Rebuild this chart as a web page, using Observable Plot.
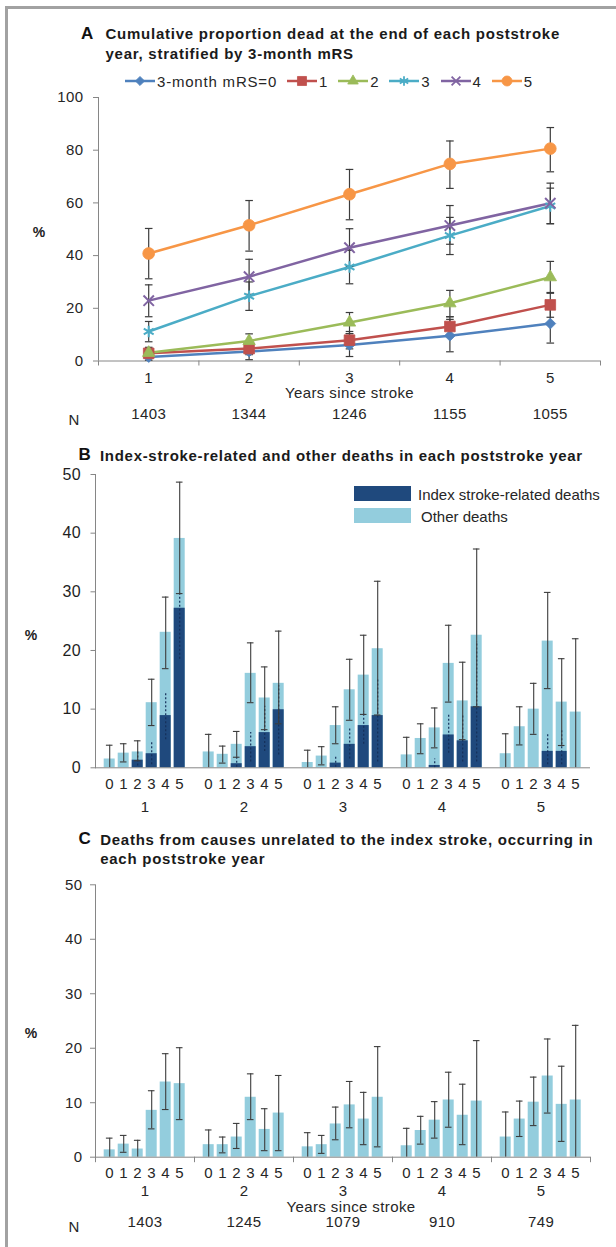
<!DOCTYPE html>
<html>
<head>
<meta charset="utf-8">
<script src="https://cdn.jsdelivr.net/npm/d3@7"></script>
<script src="https://cdn.jsdelivr.net/npm/@observablehq/plot@0.6"></script>
<style>
  html, body { margin: 0; padding: 0; background: #fff; }
  #page {
    position: relative; width: 616px; height: 1247px; overflow: hidden; background: #fff;
    font-family: "Liberation Sans", Arial, Helvetica, sans-serif; color: #1e1e1e;
  }
  .border { position: absolute; left: 5px; top: 6px; right: -20px; bottom: -20px;
    border-top: 3px solid #a2a2a2; border-left: 3px solid #a2a2a2; }
  .abs { position: absolute; white-space: nowrap; }
  .letter { font-weight: bold; font-size: 17px; line-height: 19px; color: #111; }
  .title { font-weight: bold; font-size: 15px; line-height: 19.5px; letter-spacing: 0.75px; color: #1a1a1a; }
  .pct { font-weight: bold; font-size: 14px; transform: translate(-50%, -50%); color: #222; }
  .lab { font-size: 15px; letter-spacing: 0.4px; transform: translate(-50%, -50%); color: #262626; }
  .panel { position: absolute; left: 0; }
  #legendA { position: absolute; left: 125px; top: 73px; height: 16px; display: flex; align-items: center;
    font-size: 15px; letter-spacing: 0.8px; color: #262626; }
  #legendA .item { display: flex; align-items: center; margin-right: 10px; }
  #legendA svg { display: block; margin-right: 2px; }
  .swatch { position: absolute; width: 57px; height: 15px; }
</style>
</head>
<body>
<div id="page">
  <div class="border"></div>

  <div class="abs letter" style="left:81px; top:24px;">A</div>
  <div class="abs title" style="left:105.5px; top:24px;">Cumulative proportion dead at the end of each poststroke<br>year, stratified by 3-month mRS</div>
  <div id="legendA"></div>
  <div class="abs pct" style="left:39px; top:232px;">%</div>
  <div class="abs lab" style="left:74px; top:419px;">N</div>

  <div class="abs letter" style="left:78.5px; top:445px;">B</div>
  <div class="abs title" style="left:100px; top:445.5px; letter-spacing:0.7px;">Index-stroke-related and other deaths in each poststroke year</div>
  <div class="abs pct" style="left:31px; top:635px;">%</div>

  <div class="abs letter" style="left:78.5px; top:829px;">C</div>
  <div class="abs title" style="left:100.2px; top:829.5px;">Deaths from causes unrelated to the index stroke, occurring in<br>each poststroke year</div>
  <div class="abs pct" style="left:31px; top:1033px;">%</div>
  <div class="abs lab" style="left:74px; top:1226px;">N</div>
  <div class="abs lab" style="left:351px; top:1205.5px;">Years since stroke</div>

  <div id="panelA" class="panel" style="top:88px;"></div>
  <div id="panelB" class="panel" style="top:466px;"></div>
  <div id="panelC" class="panel" style="top:876px;"></div>

  <div id="legendB"></div>
</div>

<script>
// ---- categories -----------------------------------------------------------
const years = [1, 2, 3, 4, 5];
const mrsLevels = [0, 1, 2, 3, 4, 5];
const mrsLegendLabels = ["3-month mRS=0", "1", "2", "3", "4", "5"];
const nPanelA = [1403, 1344, 1246, 1155, 1055];
const nPanelC = [1403, 1245, 1079, 910, 749];

// ---- A: cumulative % dead at the end of each year (rows: mRS 0–5, cols: year 1–5)
const cumDead   = [
  [1.5, 3.6, 6.1, 9.6, 14.2],
  [2.9, 4.7, 7.9, 13.1, 21.3],
  [3.1, 7.6, 14.6, 21.9, 31.8],
  [11.2, 24.6, 35.7, 47.6, 58.8],
  [22.9, 32.0, 43.0, 51.4, 59.9],
  [40.8, 51.5, 63.3, 74.8, 80.6]
];
const cumDeadLo = [
  [0.3, 0.5, 1.7, 3.5, 6.8],
  [1.0, 2.4, 4.6, 9.4, 16.6],
  [1.0, 4.6, 10.4, 16.8, 25.7],
  [7.3, 19.2, 29.3, 40.4, 52.1],
  [16.8, 25.3, 36.0, 44.3, 52.1],
  [31.2, 41.7, 53.6, 65.5, 71.8]
];
const cumDeadHi = [
  [2.7, 7.0, 10.4, 15.8, 21.8],
  [4.8, 7.0, 11.2, 16.8, 26.0],
  [5.2, 10.3, 18.4, 26.8, 37.8],
  [15.0, 30.0, 42.0, 54.5, 65.6],
  [28.9, 38.6, 50.2, 59.0, 67.5],
  [50.3, 60.9, 72.7, 83.5, 88.6]
];

// ---- B: deaths within each year (rows: year 1–5, cols: mRS 0–5)
const allDeaths = [
  [1.5, 2.5, 2.7, 11.1, 23.1, 39.1],
  [2.7, 2.3, 4.0, 16.1, 11.9, 14.4],
  [0.9, 2.0, 7.2, 13.3, 15.8, 20.3],
  [2.2, 5.0, 6.8, 17.8, 11.4, 22.6],
  [2.4, 7.0, 10.0, 21.6, 11.2, 9.5]
];
const allDeathsLo = [
  [0, 1.0, 1.2, 7.2, 16.9, 29.7],
  [0, 0.8, 1.8, 11.1, 6.5, 7.5],
  [0, 0.5, 4.1, 8.1, 9.1, 9.0],
  [0, 2.4, 3.4, 11.2, 4.8, 10.4],
  [0, 3.9, 5.7, 13.5, 3.8, 0]
];
const allDeathsHi = [
  [3.85, 4.1, 4.6, 15.1, 29.1, 48.7],
  [5.7, 3.7, 6.2, 21.3, 17.2, 23.3],
  [3.0, 3.6, 10.4, 18.5, 22.6, 31.8],
  [5.2, 7.5, 10.2, 24.3, 18.0, 37.3],
  [5.8, 10.4, 14.4, 29.9, 18.6, 22.0]
];
const strokeDeaths = [
  [0, 0, 1.3, 2.4, 8.9, 27.2],
  [0, 0, 0.7, 3.6, 6.0, 9.9],
  [0, 0, 0.8, 4.0, 7.2, 8.9],
  [0, 0, 0.4, 5.6, 4.6, 10.4],
  [0, 0, 0, 2.8, 2.8, 0]
];
const strokeDeathsLo = [
  [null, null, 0.3, 0.5, 4.8, 18.5],
  [null, null, 0.1, 1.0, 2.8, 2.2],
  [null, null, 0.1, 1.5, 4.0, 1.0],
  [null, null, 0.0, 2.5, 1.0, 1.0],
  [null, null, null, 0.5, 0.5, null]
];
const strokeDeathsHi = [
  [null, null, 2.7, 4.4, 12.9, 30.0],
  [null, null, 1.8, 6.0, 10.5, 14.0],
  [null, null, 1.8, 6.8, 9.5, 15.0],
  [null, null, 1.5, 9.2, 9.0, 21.5],
  [null, null, null, 5.8, 6.5, null]
];

// ---- C: deaths unrelated to the index stroke (rows: year 1–5, cols: mRS 0–5)
const unrelatedDeaths = [
  [1.35, 2.4, 1.5, 8.6, 13.8, 13.5],
  [2.3, 2.3, 3.7, 11.0, 5.1, 8.1],
  [1.9, 2.3, 6.1, 9.6, 7.0, 11.0],
  [2.1, 4.9, 6.8, 10.5, 7.7, 10.3],
  [3.7, 7.0, 10.1, 14.9, 9.7, 10.5]
];
const unrelatedLo = [
  [0, 0.9, 0, 5.2, 8.75, 6.9],
  [0, 0.8, 1.6, 6.9, 1.2, 1.2],
  [0, 0.7, 3.2, 5.4, 2.3, 1.9],
  [0, 2.4, 3.5, 5.5, 2.3, 0],
  [0, 3.8, 5.8, 8.1, 2.9, 0]
];
const unrelatedHi = [
  [3.5, 4.0, 3.1, 12.2, 19.0, 20.1],
  [5.0, 3.7, 6.2, 15.3, 8.9, 15.0],
  [4.5, 4.0, 9.2, 13.9, 11.9, 20.3],
  [5.3, 7.5, 10.2, 15.6, 13.4, 21.4],
  [8.3, 10.3, 14.7, 21.7, 16.7, 24.2]
];

// ---- styling ----------------------------------------------------------------
const mrsColors = ["#4f81bd", "#c0504d", "#9bbb59", "#4bacc6", "#8064a2", "#f79646"];
const strokeBlue = "#1f497d";
const otherBlue = "#93cddd";
const axisGray = "#868686";
const whisker = "#3c3c3c";
const textColor = "#262626";
const baseStyle = {
  fontFamily: '"Liberation Sans", Arial, Helvetica, sans-serif',
  fontSize: "15px", letterSpacing: "0.4px", color: textColor, background: "transparent", overflow: "visible"
};

// rotated-square marker and flat error-bar cap, sized from the dot radius
const diamondSymbol = {
  draw(ctx, size) {
    const r = Math.sqrt(size / Math.PI);
    ctx.moveTo(0, -r); ctx.lineTo(r, 0); ctx.lineTo(0, r); ctx.lineTo(-r, 0); ctx.closePath();
  }
};
const capSymbol = {
  draw(ctx, size) {
    const r = Math.sqrt(size / Math.PI);
    ctx.moveTo(-r, 0); ctx.lineTo(r, 0);
  }
};
const mrsSymbols = [diamondSymbol, "square", "triangle", "asterisk", "times", "circle"];
const mrsRadius = [5.4, 6.0, 4.6, 5.4, 4.8, 5.9];
const strokeOnly = [false, false, false, true, true, false];

// ---- Panel A ---------------------------------------------------------------
const aRows = mrsLevels.flatMap((m, i) => years.map((y, j) => ({
  mrs: m, year: y, pct: cumDead[i][j], lo: cumDeadLo[i][j], hi: cumDeadHi[i][j]
})));

const plotA = Plot.plot({
  width: 616, height: 342,
  marginLeft: 98, marginRight: 16, marginTop: 9, marginBottom: 69.5,
  style: baseStyle,
  x: {type: "linear", domain: [0.5, 5.5]},
  y: {domain: [0, 100]},
  color: {type: "ordinal", domain: mrsLevels, range: mrsColors},
  marks: [
    Plot.ruleX([0.5], {stroke: axisGray}),
    Plot.ruleY([0], {stroke: axisGray}),
    Plot.axisY({ticks: [0, 20, 40, 60, 80, 100], tickSize: 5, tickPadding: 10, stroke: axisGray, fill: textColor, label: null}),
    Plot.axisX({ticks: [0.5, 1.5, 2.5, 3.5, 4.5, 5.5], tickSize: 5, tickFormat: () => "", stroke: axisGray, label: null}),
    Plot.axisX({ticks: years, tickSize: 0, tickPadding: 11.5, tickFormat: d => String(d), fill: textColor, label: null}),
    Plot.text(["Years since stroke"], {frameAnchor: "bottom", dy: 37, fill: textColor}),
    Plot.text(years, {x: d => d, text: (d, i) => String(nPanelA[i]), frameAnchor: "bottom", dy: 58, fill: textColor}),
    Plot.line(aRows, {x: "year", y: "pct", z: "mrs", stroke: "mrs", strokeWidth: 2.5}),
    Plot.ruleX(aRows, {x: "year", y1: "lo", y2: "hi", stroke: whisker, strokeWidth: 1.2}),
    Plot.dot(aRows, {x: "year", y: "lo", symbol: capSymbol, r: 3.8, fill: "none", stroke: whisker, strokeWidth: 1.2}),
    Plot.dot(aRows, {x: "year", y: "hi", symbol: capSymbol, r: 3.8, fill: "none", stroke: whisker, strokeWidth: 1.2}),
    ...mrsLevels.map((m, i) => Plot.dot(aRows.filter(d => d.mrs === m), {
      x: "year", y: "pct", symbol: mrsSymbols[i], r: mrsRadius[i],
      fill: strokeOnly[i] ? "none" : "mrs", stroke: "mrs",
      strokeWidth: strokeOnly[i] ? 2 : 0.8
    }))
  ]
});
document.getElementById("panelA").append(plotA);

// legend A: short line with the series marker, then its label
const legendA = d3.select("#legendA");
mrsLevels.forEach((m, i) => {
  const item = legendA.append("div").attr("class", "item");
  const svg = item.append("svg").attr("width", 30).attr("height", 16);
  svg.append("line").attr("x1", 0).attr("x2", 30).attr("y1", 8).attr("y2", 8)
    .attr("stroke", mrsColors[i]).attr("stroke-width", 2.5);
  const r = mrsRadius[i] * 0.85;
  const sym = typeof mrsSymbols[i] === "string"
    ? {circle: d3.symbolCircle, square: d3.symbolSquare, triangle: d3.symbolTriangle,
       asterisk: d3.symbolAsterisk, times: d3.symbolTimes}[mrsSymbols[i]]
    : mrsSymbols[i];
  svg.append("path").attr("transform", "translate(15,8)")
    .attr("d", d3.symbol(sym, r * r * Math.PI)())
    .attr("fill", strokeOnly[i] ? "none" : mrsColors[i])
    .attr("stroke", mrsColors[i]).attr("stroke-width", strokeOnly[i] ? 1.8 : 0.8);
  item.append("span").text(mrsLegendLabels[i]);
});

// ---- Panel B ---------------------------------------------------------------
const bRows = years.flatMap((y, i) => mrsLevels.map((m, j) => ({
  year: y, mrs: m,
  total: allDeaths[i][j], lo: allDeathsLo[i][j], hi: allDeathsHi[i][j],
  index: strokeDeaths[i][j], ilo: strokeDeathsLo[i][j], ihi: strokeDeathsHi[i][j]
})));

const plotB = Plot.plot({
  width: 616, height: 354,
  marginLeft: 93.3, marginRight: 24.2, marginTop: 8, marginBottom: 52.7,
  style: baseStyle,
  fx: {domain: years, padding: 0},
  x: {domain: mrsLevels, paddingInner: 0.24, paddingOuter: 0.56},
  y: {domain: [0, 50]},
  marks: [
    Plot.barY(bRows, {fx: "year", x: "mrs", y: "total", fill: otherBlue}),
    Plot.barY(bRows.filter(d => d.index > 0), {fx: "year", x: "mrs", y: "index", fill: strokeBlue}),
    Plot.ruleX(bRows.filter(d => d.ihi != null), {fx: "year", x: "mrs", y1: "ilo", y2: "ihi",
      stroke: "#14305a", strokeWidth: 1.2, strokeDasharray: "2,2"}),
    Plot.ruleX(bRows, {fx: "year", x: "mrs", y1: "lo", y2: "hi", stroke: whisker, strokeWidth: 1.1}),
    Plot.tickY(bRows, {fx: "year", x: "mrs", y: "hi", inset: 2.2, stroke: whisker, strokeWidth: 1.1}),
    Plot.tickY(bRows.filter(d => d.lo > 0), {fx: "year", x: "mrs", y: "lo", inset: 2.2, stroke: whisker, strokeWidth: 1.1}),
    Plot.ruleY([0], {stroke: axisGray}),
    Plot.frame({anchor: "left", facetAnchor: "left", stroke: axisGray}),
    Plot.axisY({ticks: [0, 10, 20, 30, 40, 50], tickSize: 4.5, tickPadding: 10, stroke: axisGray, fill: "#1e1e1e",
      fontSize: 16, label: null}),
    Plot.axisX({tickSize: 0, tickPadding: 10.3, fill: textColor, label: null}),
    Plot.axisFx({anchor: "bottom", tickSize: 0, tickPadding: 33.3, fill: textColor, label: null})
  ]
});
document.getElementById("panelB").append(plotB);

// legend B: colour blocks for the two causes of death
const legendB = d3.select("#legendB");
[["Index stroke-related deaths", strokeBlue, 486, 418, 493.5],
 ["Other deaths", otherBlue, 507.5, 421, 515.5]].forEach(([label, color, top, tx, ty]) => {
  legendB.append("div").attr("class", "swatch")
    .style("left", "354px").style("top", top + "px").style("background", color);
  legendB.append("div").attr("class", "abs")
    .style("left", tx + "px").style("top", ty + "px").style("transform", "translate(0,-50%)")
    .style("font-size", "15px").style("color", textColor).text(label);
});

// ---- Panel C ---------------------------------------------------------------
const cRows = years.flatMap((y, i) => mrsLevels.map((m, j) => ({
  year: y, mrs: m, pct: unrelatedDeaths[i][j], lo: unrelatedLo[i][j], hi: unrelatedHi[i][j]
})));
const heightC = 364, marginTopC = 8.3, marginBottomC = 83.3;
const innerC = heightC - marginTopC - marginBottomC;

const plotC = Plot.plot({
  width: 616, height: heightC,
  marginLeft: 93.3, marginRight: 24.2, marginTop: marginTopC, marginBottom: marginBottomC,
  style: baseStyle,
  fx: {domain: years, padding: 0},
  x: {domain: mrsLevels, paddingInner: 0.24, paddingOuter: 0.56},
  y: {domain: [0, 50]},
  marks: [
    Plot.barY(cRows, {fx: "year", x: "mrs", y: "pct", fill: otherBlue}),
    Plot.ruleX(cRows, {fx: "year", x: "mrs", y1: "lo", y2: "hi", stroke: whisker, strokeWidth: 1.1}),
    Plot.tickY(cRows, {fx: "year", x: "mrs", y: "hi", inset: 2.2, stroke: whisker, strokeWidth: 1.1}),
    Plot.tickY(cRows.filter(d => d.lo > 0), {fx: "year", x: "mrs", y: "lo", inset: 2.2, stroke: whisker, strokeWidth: 1.1}),
    Plot.ruleY([0], {stroke: axisGray}),
    Plot.frame({anchor: "left", facetAnchor: "left", stroke: axisGray}),
    // small separators below the baseline between years
    Plot.frame({anchor: "left", insetTop: innerC, insetBottom: -4.5, stroke: axisGray}),
    Plot.frame({anchor: "right", facetAnchor: "right", insetTop: innerC, insetBottom: -4.5, stroke: axisGray}),
    Plot.axisY({ticks: [0, 10, 20, 30, 40, 50], tickSize: 5, tickPadding: 8, stroke: axisGray, fill: textColor, label: null}),
    Plot.axisX({tickSize: 0, tickPadding: 9.8, fill: textColor, label: null}),
    Plot.axisFx({anchor: "bottom", tickSize: 0, tickPadding: 28, fill: textColor, label: null}),
    Plot.text(years, {fx: d => d, text: (d, i) => String(nPanelC[i]), frameAnchor: "bottom", dy: 69.3, fill: textColor})
  ]
});
document.getElementById("panelC").append(plotC);
</script>
</body>
</html>
